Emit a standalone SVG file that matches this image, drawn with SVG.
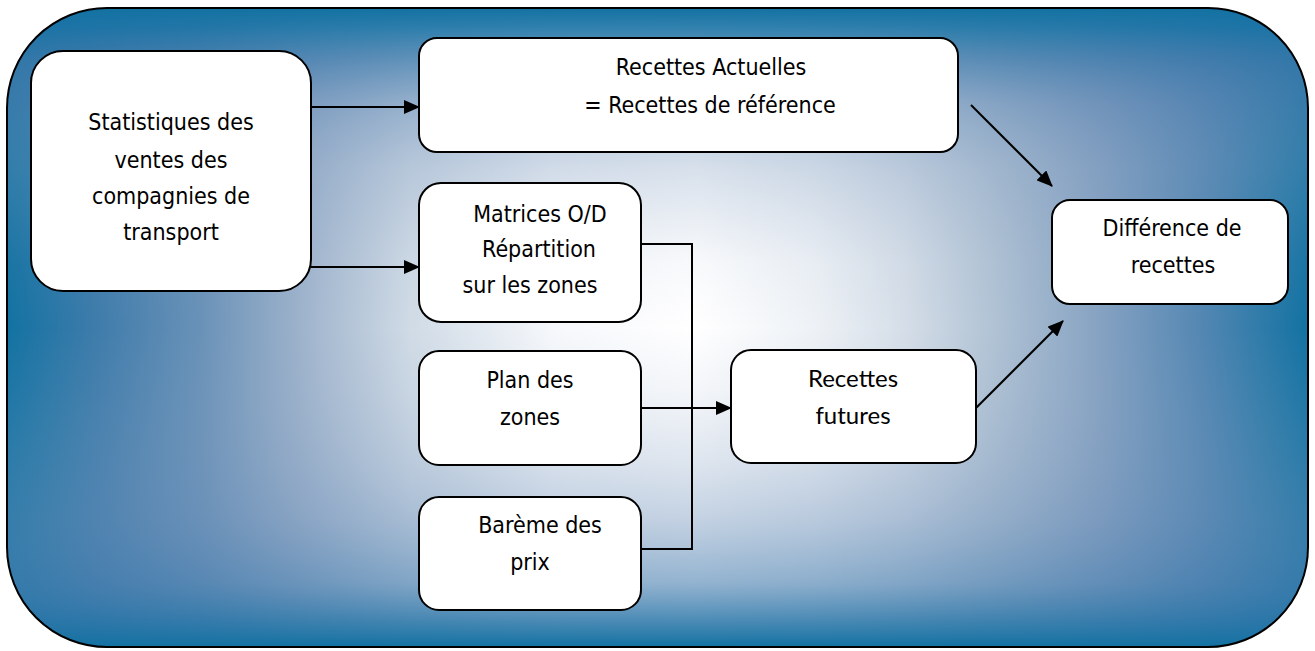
<svg xmlns="http://www.w3.org/2000/svg" width="1315" height="651" viewBox="0 0 1315 651">
<style>
.box{fill:#fff;stroke:#000;stroke-width:2}
.t{font-family:"DejaVu Sans Condensed","DejaVu Sans",sans-serif;font-size:23px;fill:#000;text-anchor:middle}
.c{font-family:Lato,"Open Sans",sans-serif;font-size:24px;fill:#000;text-anchor:middle}
.ln{fill:none;stroke:#000;stroke-width:2}
</style>
<defs>
<linearGradient id="bgx" x1="0" y1="0" x2="1" y2="0">
<stop offset="0" stop-color="#1272a2"/>
<stop offset="0.07" stop-color="#3f7cab"/>
<stop offset="0.15" stop-color="#6a92b8"/>
<stop offset="0.22" stop-color="#9ab0ca"/>
<stop offset="0.31" stop-color="#d0dbe6"/>
<stop offset="0.42" stop-color="#f6f8fb"/>
<stop offset="0.53" stop-color="#ffffff"/>
<stop offset="0.62" stop-color="#eef2f6"/>
<stop offset="0.69" stop-color="#d5dee8"/>
<stop offset="0.76" stop-color="#b0c2d4"/>
<stop offset="0.84" stop-color="#86a2c2"/>
<stop offset="0.92" stop-color="#5286b2"/>
<stop offset="1" stop-color="#1272a2"/>
</linearGradient>
<linearGradient id="bgy" x1="0" y1="0" x2="0" y2="1">
<stop offset="0" stop-color="#1272a2" stop-opacity="1"/>
<stop offset="0.03" stop-color="#1a73a5" stop-opacity="0.9"/>
<stop offset="0.08" stop-color="#3a78aa" stop-opacity="0.75"/>
<stop offset="0.15" stop-color="#5a84b2" stop-opacity="0.5"/>
<stop offset="0.25" stop-color="#7a98bd" stop-opacity="0.3"/>
<stop offset="0.4" stop-color="#8aa2c2" stop-opacity="0.06"/>
<stop offset="0.5" stop-color="#8aa2c2" stop-opacity="0"/>
<stop offset="0.6" stop-color="#8aa2c2" stop-opacity="0.1"/>
<stop offset="0.71" stop-color="#7a98bd" stop-opacity="0.25"/>
<stop offset="0.8" stop-color="#6a8eb8" stop-opacity="0.4"/>
<stop offset="0.9" stop-color="#4a80b0" stop-opacity="0.6"/>
<stop offset="0.96" stop-color="#2a76a8" stop-opacity="0.85"/>
<stop offset="1" stop-color="#1272a2" stop-opacity="1"/>
</linearGradient>
<marker id="ah" markerUnits="userSpaceOnUse" markerWidth="16" markerHeight="14" refX="15" refY="7" orient="auto">
<path d="M0,0 L16,7 L0,14 Z" fill="#000"/>
</marker>
</defs>
<g id="background">
<rect x="7" y="8" width="1301" height="639" rx="100" ry="100" fill="url(#bgx)"/>
<rect x="7" y="8" width="1301" height="639" rx="100" ry="100" fill="url(#bgy)"/>
<rect x="7" y="8" width="1301" height="639" rx="100" ry="100" fill="none" stroke="#000" stroke-width="2"/>
</g>
<g id="connectors">
<line class="ln" x1="311" y1="107" x2="419" y2="107" marker-end="url(#ah)"/>
<line class="ln" x1="311" y1="267" x2="419" y2="267" marker-end="url(#ah)"/>
<polyline class="ln" points="641,244 692,244 692,549 641,549"/>
<line class="ln" x1="641" y1="408" x2="731" y2="408" marker-end="url(#ah)"/>
<line class="ln" x1="971" y1="105" x2="1052" y2="186" marker-end="url(#ah)"/>
<line class="ln" x1="976" y1="408" x2="1063" y2="321" marker-end="url(#ah)"/>
</g>
<g id="stats">
<rect class="box" x="31" y="51" width="280" height="240" rx="32"/>
<text class="t" x="171" y="130">Statistiques des</text>
<text class="t" x="171" y="168">ventes des</text>
<text class="t" x="171" y="204">compagnies de</text>
<text class="t" x="171" y="240">transport</text>
</g>
<g id="recettes-actuelles">
<rect class="box" x="419" y="38" width="539" height="114" rx="18"/>
<text class="t" x="711" y="75">Recettes Actuelles</text>
<text class="t" x="710" y="113">= Recettes de référence</text>
</g>
<g id="matrices">
<rect class="box" x="419" y="183" width="222" height="139" rx="22"/>
<text class="t" x="540" y="222">Matrices O/D</text>
<text class="t" x="539" y="257">Répartition</text>
<text class="t" x="530" y="293">sur les zones</text>
</g>
<g id="plan">
<rect class="box" x="419" y="351" width="222" height="114" rx="20"/>
<text class="t" x="530" y="388">Plan des</text>
<text class="t" x="530" y="425">zones</text>
</g>
<g id="bareme">
<rect class="box" x="419" y="497" width="222" height="113" rx="20"/>
<text class="t" x="540" y="533">Barème des</text>
<text class="t" x="530" y="570">prix</text>
</g>
<g id="recettes-futures">
<rect class="box" x="731" y="350" width="245" height="113" rx="20"/>
<text class="c" x="853" y="387">Recettes</text>
<text class="c" x="853" y="424">futures</text>
</g>
<g id="difference">
<rect class="box" x="1052" y="200" width="236" height="104" rx="18"/>
<text class="t" x="1172" y="236">Différence de</text>
<text class="t" x="1173" y="273">recettes</text>
</g>
</svg>
